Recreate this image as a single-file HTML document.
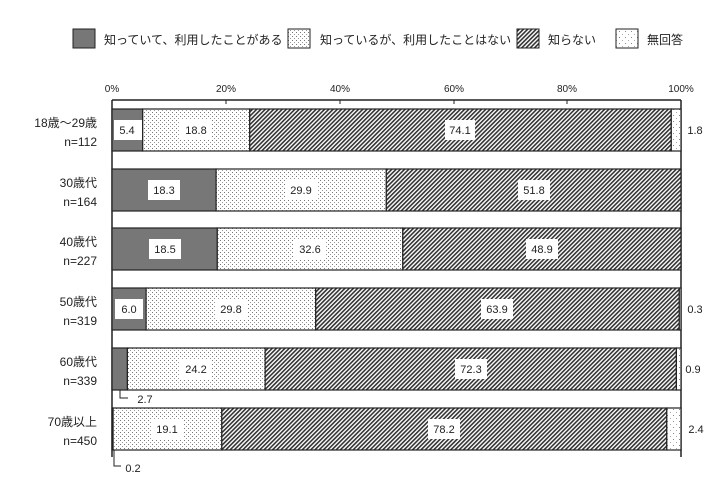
<!DOCTYPE html>
<html><head><meta charset="utf-8"><style>
body{margin:0;background:#fff}
svg text{font-family:"Liberation Sans","Noto Sans CJK JP",sans-serif;fill:#222}
</style></head><body>
<svg width="710" height="479" viewBox="0 0 710 479" xmlns="http://www.w3.org/2000/svg">
<defs>
<pattern id="dot" width="4" height="4" patternUnits="userSpaceOnUse"><rect width="4" height="4" fill="#fff"/><rect x="0" y="0" width="1" height="1" fill="#777"/><rect x="2" y="2" width="1" height="1" fill="#999"/></pattern>
<pattern id="sp" width="6" height="6" patternUnits="userSpaceOnUse"><rect width="6" height="6" fill="#fff"/><rect x="1" y="1" width="1" height="1" fill="#888"/><rect x="4" y="4" width="1" height="1" fill="#aaa"/></pattern>
<pattern id="hat" width="3" height="3" patternUnits="userSpaceOnUse" patternTransform="rotate(45)"><rect width="3" height="3" fill="#fff"/><rect width="1.6" height="3" fill="#333"/></pattern>
</defs>
<g font-size="12">
<rect x="73" y="29" width="22" height="19" fill="#777" stroke="#222"/>
<text x="104" y="44">知っていて、利用したことがある</text>
<rect x="288" y="29" width="22" height="19" fill="url(#dot)" stroke="#222"/>
<text x="320" y="44">知っているが、利用したことはない</text>
<rect x="517" y="29" width="22" height="19" fill="url(#hat)" stroke="#222"/>
<text x="548" y="44">知らない</text>
<rect x="616" y="29" width="22" height="19" fill="url(#sp)" stroke="#222"/>
<text x="647" y="44">無回答</text>
</g>
<g font-size="10" text-anchor="middle">
<text x="112" y="92">0%</text><text x="226" y="92">20%</text><text x="340" y="92">40%</text><text x="454" y="92">60%</text><text x="567" y="92">80%</text><text x="681" y="92">100%</text>
</g>
<g stroke="#222" stroke-width="1.5" fill="none">
<line x1="112" y1="100" x2="681" y2="100"/>
<line x1="112" y1="100" x2="112" y2="457"/>
<line x1="681" y1="100" x2="681" y2="457"/>
</g>
<g stroke="#222" stroke-width="1">
<line x1="226" y1="100" x2="226" y2="104"/><line x1="340" y1="100" x2="340" y2="104"/><line x1="454" y1="100" x2="454" y2="104"/><line x1="567" y1="100" x2="567" y2="104"/>
</g>
<g stroke="#222" stroke-width="1.2">
<!-- bar1 -->
<rect x="112" y="109" width="30.7" height="42" fill="#777"/>
<rect x="142.7" y="109" width="107" height="42" fill="url(#dot)"/>
<rect x="249.7" y="109" width="421.6" height="42" fill="url(#hat)"/>
<rect x="671.3" y="109" width="9.7" height="42" fill="url(#sp)"/>
<!-- bar2 -->
<rect x="112" y="169" width="104.1" height="42" fill="#777"/>
<rect x="216.1" y="169" width="170.2" height="42" fill="url(#dot)"/>
<rect x="386.3" y="169" width="294.7" height="42" fill="url(#hat)"/>
<!-- bar3 -->
<rect x="112" y="228" width="105.3" height="42" fill="#777"/>
<rect x="217.3" y="228" width="185.5" height="42" fill="url(#dot)"/>
<rect x="402.8" y="228" width="278.2" height="42" fill="url(#hat)"/>
<!-- bar4 -->
<rect x="112" y="288" width="34.1" height="42" fill="#777"/>
<rect x="146.1" y="288" width="169.6" height="42" fill="url(#dot)"/>
<rect x="315.7" y="288" width="363.6" height="42" fill="url(#hat)"/>
<rect x="679.3" y="288" width="1.7" height="42" fill="url(#sp)"/>
<!-- bar5 -->
<rect x="112" y="348" width="15.4" height="42" fill="#777"/>
<rect x="127.4" y="348" width="137.7" height="42" fill="url(#dot)"/>
<rect x="265.1" y="348" width="411.3" height="42" fill="url(#hat)"/>
<rect x="676.4" y="348" width="4.6" height="42" fill="url(#sp)"/>
<!-- bar6 -->
<rect x="112" y="408" width="1.1" height="42" fill="#777"/>
<rect x="113.1" y="408" width="108.7" height="42" fill="url(#dot)"/>
<rect x="221.8" y="408" width="445" height="42" fill="url(#hat)"/>
<rect x="666.8" y="408" width="14.2" height="42" fill="url(#sp)"/>
</g>
<g fill="#fff">
<rect x="114" y="120" width="28" height="20"/><rect x="180" y="120" width="32" height="20"/><rect x="445" y="120" width="30" height="20"/>
<rect x="148" y="180" width="32" height="20"/><rect x="285" y="180" width="32" height="20"/><rect x="518" y="180" width="32" height="20"/>
<rect x="149" y="239" width="32" height="20"/><rect x="294" y="239" width="32" height="20"/><rect x="526" y="239" width="32" height="20"/>
<rect x="115" y="299" width="28" height="20"/><rect x="215" y="299" width="32" height="20"/><rect x="481" y="299" width="32" height="20"/>
<rect x="180" y="359" width="32" height="20"/><rect x="455" y="359" width="32" height="20"/>
<rect x="151" y="419" width="32" height="20"/><rect x="428" y="419" width="32" height="20"/>
</g>
<g font-size="11" text-anchor="middle">
<text x="127" y="134">5.4</text><text x="196" y="134">18.8</text><text x="460" y="134">74.1</text>
<text x="164" y="194">18.3</text><text x="301" y="194">29.9</text><text x="534" y="194">51.8</text>
<text x="165" y="253">18.5</text><text x="310" y="253">32.6</text><text x="542" y="253">48.9</text>
<text x="129" y="313">6.0</text><text x="231" y="313">29.8</text><text x="497" y="313">63.9</text>
<text x="196" y="373">24.2</text><text x="471" y="373">72.3</text>
<text x="167" y="433">19.1</text><text x="444" y="433">78.2</text>
<text x="695" y="134">1.8</text><text x="695" y="313">0.3</text><text x="693" y="373">0.9</text><text x="696" y="433">2.4</text>
<text x="145" y="403">2.7</text><text x="133" y="472">0.2</text>
</g>
<g stroke="#222" fill="none" stroke-width="1">
<polyline points="120,390 120,398 128,398"/>
<polyline points="114,450 114,466 121,466"/>
</g>
<g font-size="12" text-anchor="end">
<text x="97" y="127">18歳～29歳</text><text x="97" y="146">n=112</text>
<text x="97" y="187">30歳代</text><text x="97" y="206">n=164</text>
<text x="97" y="246">40歳代</text><text x="97" y="265">n=227</text>
<text x="97" y="306">50歳代</text><text x="97" y="325">n=319</text>
<text x="97" y="366">60歳代</text><text x="97" y="385">n=339</text>
<text x="97" y="426">70歳以上</text><text x="97" y="445">n=450</text>
</g>
</svg>
</body></html>
